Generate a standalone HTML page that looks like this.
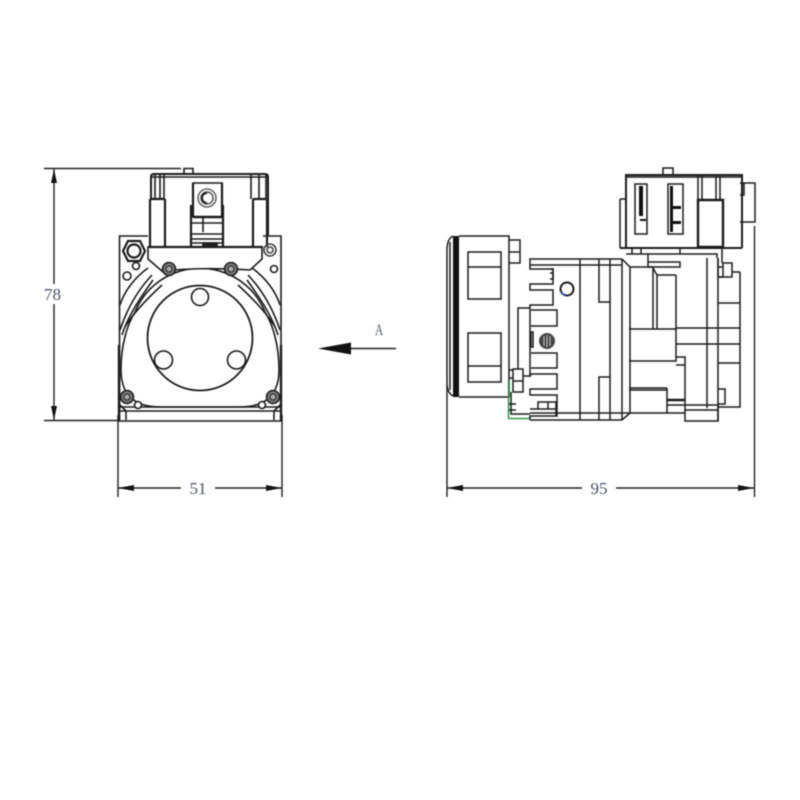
<!DOCTYPE html>
<html><head><meta charset="utf-8"><style>
html,body{margin:0;padding:0;background:#fff}
svg{display:block}
text{font-family:"Liberation Serif","DejaVu Serif",serif;fill:#4a5068}
</style></head><body>
<svg width="800" height="800" viewBox="0 0 800 800" xmlns="http://www.w3.org/2000/svg">
<rect width="800" height="800" fill="#fff"/>
<g style="filter:blur(.4px)">
<!-- dimensions -->
<g fill="none" stroke="#222" stroke-width="1.400">
<path d="M44 168.500H181M44 420.500H120M54 169V284M54 304V420"/>
<path d="M118 415V497M282 415V497M447 385V497M754.500 226V497"/>
<path d="M118 488H181M215 488H282M447 488H582M616 488H754"/>
<path d="M350 348.500H396" stroke-width="1.600"/>
</g>
<g fill="#111">
<path d="M54 169L51 183L57 183Z M54 420L51 406L57 406Z"/>
<path d="M118 488L134 485L134 491Z M282 488L266 485L266 491Z M447 488L463 485L463 491Z M754 488L738 485L738 491Z"/>
<path d="M318 348.500L351 342.500L351 354.500Z"/>
</g>
<text x="52.500" y="300" font-size="17" text-anchor="middle">78</text>
<text x="198" y="494" font-size="17" text-anchor="middle">51</text>
<text x="599" y="494" font-size="17" text-anchor="middle">95</text>
<text transform="translate(379 335) scale(.7 1)" font-size="16" text-anchor="middle">A</text>

<!-- LEFT VIEW -->
<g fill="none" stroke="#1c1c1c" stroke-width="1.600">
<!-- base plate -->
<path d="M148 236H119.500V421H281V236H263"/>
<path d="M119 345V421M281 345V421" stroke-width="2.400"/>
<path d="M120 411H281M126 411V420M274 411V420M120 407H280M120 405L126 411M280 405L274 411"/>
<!-- body arcs -->
<path d="M148 268C134 278 124 292 120 305M152 275C136 292 126 312 120 330M153 280C140 298 128 316 122 335M162 285C150 296 134 312 125 327"/>
<path d="M252 268C266 278 276 292 280 305M248 275C264 292 274 312 280 330M247 280C260 298 272 316 278 335M238 285C250 296 266 312 275 327"/>
<path d="M172 274A70 70 0 0 0 135 312C127 325 121 345 121 370C121 395 135 407 160 407H240C265 407 279 395 279 370C279 345 273 325 265 312A70 70 0 0 0 228 274"/>
<path d="M172 274A70 70 0 0 1 228 274"/>
<circle cx="200" cy="338" r="52.500" stroke-width="1.800"/>
<circle cx="200" cy="297" r="8.500"/>
<circle cx="163.500" cy="360" r="9"/>
<circle cx="236.500" cy="360" r="9"/>
<!-- top assembly -->
<path d="M151 199V177Q151 174 154 174H265Q268 174 268 177V235" stroke-width="2"/>
<path d="M152 177H267" />
<path d="M155 175V199M160 175V199M164 175V199M251 175V199M259 175V199M266 175V199" />
<path d="M184 174V168.500H193V174"/>
<path d="M150 199H165M150 199V247M165 199V247" stroke-width="2.200"/>
<path d="M253 199H266M253 199V247M267 199V247" stroke-width="2.200"/>
<path d="M193 183H222V217H193Z" />
<path d="M193 183V217M222 183V217M191 205V247M223 205V247" stroke-width="2.200"/>
<path d="M193 217H222" stroke-width="2.400"/>
<path d="M191 223H223M191 234H223M191 239H223M191 243H223M203 217V232"/>
<path d="M203 243H217V247H203Z" fill="#222"/>
<circle cx="207" cy="198" r="9" stroke="#666"/>
<circle cx="207" cy="198" r="6" stroke="#555" stroke-width="1.500"/>
<path d="M207 193A5 5 0 0 0 207 203" stroke="#222" stroke-width="2"/>
<!-- bracket -->
<path d="M148 247V259L163 272C178 268 222 268 250 270L262 259V247Z" fill="#fff"/>
<path d="M148 247H263" stroke-width="2.200"/>
<!-- bolts -->
<path d="M128 241L140 241L145 251L140 261L128 261L123 251Z" stroke-width="2.200" fill="#fff"/>
<circle cx="134" cy="251" r="6.500" stroke-width="2.200"/>
<circle cx="136" cy="266" r="3.500"/>
<circle cx="127" cy="276" r="4"/>
<circle cx="274" cy="269" r="3.500"/>
<circle cx="270" cy="250" r="6" stroke="#444"/>
<circle cx="270" cy="250" r="3" stroke="#444"/>
<circle cx="138" cy="405" r="3.500" fill="#fff"/>
<circle cx="262" cy="405" r="3.500" fill="#fff"/>
</g>
<g fill="#777" stroke="#222" stroke-width="1.600">
<circle cx="169" cy="269" r="6.500"/>
<circle cx="231" cy="269" r="6.500"/>
<circle cx="127" cy="397" r="6.500"/>
<circle cx="273" cy="397" r="6.500"/>
</g>
<g fill="#aaa" stroke="#222" stroke-width="1">
<circle cx="169" cy="269" r="3"/>
<circle cx="231" cy="269" r="3"/>
<circle cx="127" cy="397" r="3"/>
<circle cx="273" cy="397" r="3"/>
</g>

<!-- RIGHT VIEW -->
<g fill="none" stroke="#1c1c1c" stroke-width="1.500">
<!-- front cap -->
<path d="M459 236H509V397H459"/>
<path d="M453 236C449 238 447 243 447 250V382C447 390 449 394 453 396"/>
<path d="M450 242V390"/>
<path d="M468 252H501V299H468ZM468 267H501M468 333H501V382H468ZM468 366H501"/>
<path d="M509 240H520V263H509M509 252H520"/>
<!-- green -->
<path d="M508.500 380V418.500H530" stroke="#2f9a4a"/>
<!-- body profile -->
<path d="M622 259H530V269H553V284H530V290H553V305H530V377"/>
<path d="M530 265H622M580 259V420M599 259V302H610M599 420V377H610M610 259V420M622 259V420"/>
<path d="M622 259L630 267H653V329M657 329V275H676M630 267V413L622 420M653 268L657 275"/>
<path d="M530 413H685M530 420H622" />
<path d="M518 369V308H530M513 369H523V392H513ZM513 381H523M509 370H513V378H509M511 392V414H530M509 404H516M509 410H516"/>
<path d="M531 310H557V326H531M531 353H557V368H531M523 376H530L531 374H557V389H530V395H557V416H530V420M538 402H548V409H538ZM548 402H556V416M530 409H556"/>
<path d="M531 332H533V347H531Z"/>
<path d="M550 269H553V279H550M550 273H553"/>
<!-- middle right -->
<path d="M629 329H676M629 361H676V343M676 275V361M676 328H740M676 344H740"/>
<path d="M676 357H685V365H676M685 357V421H718V405H685M685 410H718"/>
<path d="M629 388H667M629 390H667M667 388V413"/>
<path d="M667 400H685" stroke-width="2.400"/>
<path d="M667 405H685"/>
<path d="M707 258V408M718 258V421M740 272V407H718"/>
<path d="M718 303H740M718 363H740M718 389H725V404H718"/>
<path d="M723 277H718M732 272H740"/>
<!-- top box -->
<path d="M626 248V175H742V248" stroke-width="2"/>
<path d="M626 177H742"/>
<path d="M663 174V168H673V174"/>
<path d="M620 199H626M620 199V248" />
<path d="M620 248H742" stroke-width="2"/>
<path d="M635 184H647V234H635Z"/>
<path d="M668 184H683V234H668Z"/>
<path d="M698 175V200M702 175V200M716 175V200M720 175V200"/>
<path d="M698 200H723V247H698Z" stroke-width="2.400"/>
<path d="M740 183H755V222H740M740 195H744V183"/>
<path d="M626 254H717M648 254V262H680V267H648V262M680 248V254M702 254H717V258M632 248V254H641V248"/>
<path d="M722 248V263M718 258V277M723 263H732V277H723Z" />
<path d="M718 267H723M718 277H723"/>
<circle cx="567" cy="289" r="6.500" stroke-width="2"/>
<path d="M561 292A6.500 6.500 0 0 0 565 295" stroke="#3a55c0" stroke-width="2"/>
</g>
<g fill="#111">
<rect x="453" y="236" width="6" height="161"/>
<rect x="639" y="186" width="4" height="30"/>
<rect x="670" y="186" width="3" height="46"/>
<rect x="673" y="206" width="8" height="3"/>
<rect x="673" y="221" width="8" height="3"/>
<rect x="640" y="219" width="6" height="2"/>
<circle cx="547" cy="341" r="8" fill="#444"/>
</g>
<g fill="none" stroke="#ccc" stroke-width="1"><path d="M544 336V346M547 335V347M550 336V346"/></g>
</g>
</svg>
</body></html>
